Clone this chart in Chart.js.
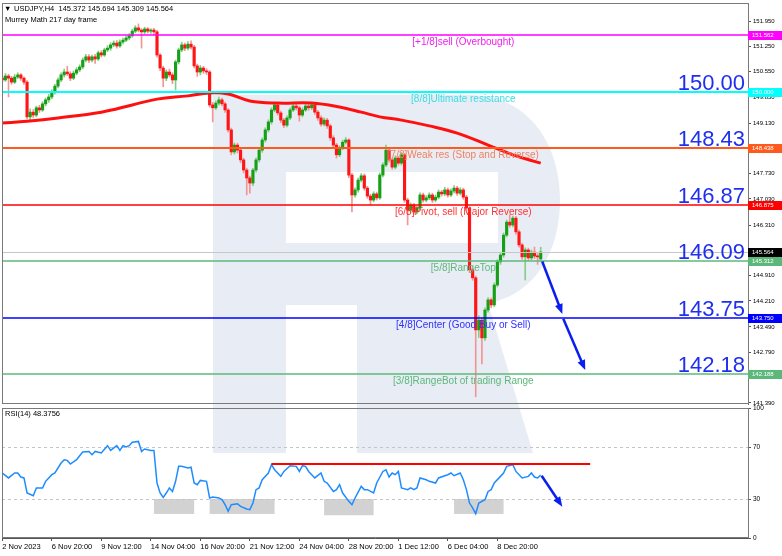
<!DOCTYPE html>
<html>
<head>
<meta charset="utf-8">
<script src="https://cdn.jsdelivr.net/npm/chart.js@4.4.0/dist/chart.umd.min.js"></script>
<style>
html, body { margin: 0; padding: 0; background: #fff; }
#wrap { position: relative; width: 782px; height: 556px; overflow: hidden; }
#wm { position: absolute; left: 0; top: 0; }
#main { position: absolute; left: 0; top: 0; }
#rsi { position: absolute; left: 0; top: 404px; }
</style>
</head>
<body>
<div id="wrap">
  <!-- background watermark -->
  <svg id="wm" width="782" height="556">
    <g fill="#e8edf5">
      <rect x="213" y="95" width="73" height="358"/>
      <path fill-rule="evenodd" d="M286 95 H470 C525 95 560 140 560 200 C560 262 525 305 470 305 H286 Z M286 172 H498 V243 H286 Z"/>
      <polygon points="357,243 470,243 533,453 357,453"/>
    </g>
  </svg>
  <canvas id="main" width="782" height="405"></canvas>
  <canvas id="rsi" width="782" height="152"></canvas>
</div>
<script>
// ---- data (USDJPY H4) ----
var timeLabels = ['2 Nov 2023', '6 Nov 20:00', '9 Nov 12:00', '14 Nov 04:00', '16 Nov 20:00',
    '21 Nov 12:00', '24 Nov 04:00', '28 Nov 20:00', '1 Dec 12:00', '6 Dec 04:00', '8 Dec 20:00'];
var tickBars = [0, 16, 32, 48, 64, 80, 96, 112, 128, 144, 160];

var opens = [150.37,150.32,150.43,150.37,150.26,150.40,150.46,150.37,150.26,149.30,
149.43,149.35,149.55,149.49,149.66,149.77,149.85,149.99,150.15,150.32,
150.46,150.54,150.49,150.37,150.51,150.60,150.68,150.87,150.96,150.87,
150.96,150.90,151.07,151.01,151.15,151.20,151.29,151.34,151.26,151.37,
151.42,151.48,151.54,151.67,151.76,151.70,151.65,151.73,151.67,151.70,
151.65,151.01,150.65,150.37,150.54,150.46,150.32,150.82,151.15,151.29,
151.20,151.31,151.23,150.71,150.54,150.65,150.57,150.54,149.63,149.55,
149.68,149.77,149.66,149.49,148.94,148.33,148.52,148.38,148.11,147.83,
147.61,147.47,147.83,148.11,148.38,148.66,148.94,149.16,149.49,149.63,
149.41,149.21,149.07,149.27,149.49,149.60,149.55,149.35,149.49,149.60,
149.55,149.63,149.43,149.27,149.10,149.21,149.05,148.72,148.52,148.25,
148.44,148.60,148.66,147.69,147.14,147.28,147.55,147.67,147.33,147.11,
147.00,147.17,147.06,147.69,147.97,148.38,148.11,147.91,148.16,148.02,
148.25,147.00,146.72,146.86,146.67,146.78,147.14,147.00,147.06,147.14,
147.00,147.08,147.22,147.17,147.28,147.14,147.25,147.33,147.19,147.28,
147.08,146.78,145.07,144.85,143.41,143.68,143.19,143.96,144.24,144.10,
144.65,145.29,145.48,146.03,146.39,146.31,146.50,146.12,145.76,145.43,
145.62,145.40,145.56,145.45,145.372];
var highs = [150.45,150.50,150.48,150.42,150.47,150.52,150.50,150.41,150.30,149.52,
149.50,149.60,149.62,149.72,149.82,149.92,150.05,150.20,150.38,150.52,
150.62,150.70,150.55,150.57,150.66,150.74,150.93,151.03,151.02,151.01,
151.03,151.12,151.13,151.20,151.27,151.35,151.40,151.41,151.43,151.48,
151.53,151.60,151.72,151.82,151.87,151.74,151.78,151.77,151.74,151.75,
151.69,151.05,150.70,150.60,150.62,150.52,150.87,151.20,151.36,151.34,
151.38,151.40,151.28,150.76,150.72,150.70,150.63,150.58,149.70,149.74,
149.85,149.82,149.71,149.53,148.99,148.58,148.57,148.43,148.16,147.88,
147.66,147.88,148.17,148.44,148.72,149.00,149.22,149.55,149.70,149.67,
149.46,149.26,149.33,149.55,149.66,149.67,149.60,149.55,149.66,149.65,
149.69,149.68,149.48,149.33,149.27,149.26,149.10,148.78,148.57,148.50,
148.66,148.73,148.70,147.74,147.34,147.61,147.73,147.72,147.38,147.16,
147.23,147.22,147.75,148.03,148.52,148.43,148.16,148.22,148.21,148.31,
148.29,147.05,146.92,146.91,146.84,147.20,147.19,147.12,147.20,147.19,
147.14,147.28,147.27,147.35,147.33,147.31,147.40,147.38,147.34,147.33,
147.13,146.82,145.12,144.90,143.80,143.75,144.02,144.30,144.29,144.71,
145.35,145.54,146.09,146.45,146.59,146.56,146.55,146.17,145.81,145.68,
145.67,145.62,145.70,145.52,145.694];
var lows = [150.25,150.28,149.85,150.20,150.22,150.36,150.31,150.20,149.25,149.21,
149.28,149.30,149.42,149.45,149.60,149.70,149.80,149.93,150.10,150.27,
150.40,150.44,150.30,150.33,150.46,150.55,150.63,150.82,150.80,150.82,
150.78,150.86,150.95,150.97,151.10,151.14,151.24,151.20,151.22,151.32,
151.38,151.43,151.50,151.62,151.65,151.20,151.60,151.62,151.61,151.58,
150.95,150.58,150.13,150.30,150.40,150.22,150.04,150.76,151.10,151.13,
151.15,151.17,150.65,150.42,150.46,150.50,150.47,149.57,149.16,149.50,
149.62,149.60,149.42,148.88,148.25,148.27,148.30,148.03,147.75,147.14,
147.19,147.40,147.77,148.05,148.32,148.60,148.88,149.10,149.44,149.35,
149.14,149.00,149.02,149.22,149.44,149.49,149.18,149.30,149.45,149.48,
149.50,149.37,149.20,149.04,149.05,148.98,148.65,148.45,148.16,148.20,
148.39,148.55,147.62,146.67,147.08,147.22,147.50,147.27,147.05,146.86,
146.95,147.00,147.02,147.64,147.92,148.05,147.85,147.86,147.96,147.97,
146.94,146.31,146.66,146.60,146.62,146.73,146.94,146.95,147.01,146.93,
146.95,147.03,147.11,147.12,147.08,147.09,147.20,147.13,147.14,147.02,
146.70,145.00,144.78,141.56,143.20,142.47,143.12,143.90,144.02,144.05,
144.60,145.22,145.42,145.98,146.25,146.26,146.05,145.70,145.36,144.79,
145.33,145.35,145.38,145.22,145.309];
var closes = [150.32,150.43,150.37,150.26,150.40,150.46,150.37,150.26,149.30,149.43,
149.35,149.55,149.49,149.66,149.77,149.85,149.99,150.15,150.32,150.46,
150.54,150.49,150.37,150.51,150.60,150.68,150.87,150.96,150.87,150.96,
150.90,151.07,151.01,151.15,151.20,151.29,151.34,151.26,151.37,151.42,
151.48,151.54,151.67,151.76,151.70,151.65,151.73,151.67,151.70,151.65,
151.01,150.65,150.37,150.54,150.46,150.32,150.82,151.15,151.29,151.20,
151.31,151.23,150.71,150.54,150.65,150.57,150.54,149.63,149.55,149.68,
149.77,149.66,149.49,148.94,148.33,148.52,148.38,148.11,147.83,147.61,
147.47,147.83,148.11,148.38,148.66,148.94,149.16,149.49,149.63,149.41,
149.21,149.07,149.27,149.49,149.60,149.55,149.35,149.49,149.60,149.55,
149.63,149.43,149.27,149.10,149.21,149.05,148.72,148.52,148.25,148.44,
148.60,148.66,147.69,147.14,147.28,147.55,147.67,147.33,147.11,147.00,
147.17,147.06,147.69,147.97,148.38,148.11,147.91,148.16,148.02,148.25,
147.00,146.72,146.86,146.67,146.78,147.14,147.00,147.06,147.14,147.00,
147.08,147.22,147.17,147.28,147.14,147.25,147.33,147.19,147.28,147.08,
146.78,145.07,144.85,143.41,143.68,143.19,143.96,144.24,144.10,144.65,
145.29,145.48,146.03,146.39,146.31,146.50,146.12,145.76,145.43,145.62,
145.40,145.56,145.45,145.43,145.564];

// 217 moving average, read at a few bars
var maBars = [0, 8, 18, 32, 42, 50, 60, 67, 73, 80, 89, 100, 109, 116, 122, 129, 138, 147, 157, 165, 174];
var maValues = [149.13, 149.18, 149.27, 149.43, 149.63, 149.79, 149.88, 149.96, 149.93, 149.74, 149.68,
    149.68, 149.57, 149.43, 149.30, 149.21, 149.05, 148.85, 148.52, 148.25, 148.02];

// Murrey math levels
var murreyLevels = [151.5625, 150.0, 148.4375, 146.875, 145.3125, 143.75, 142.1875];
var murreyBoxText = ['151.562', '150.000', '148.438', '146.875', '145.312', '143.750', '142.188'];
var murreyNames = ['[+1/8]sell (Overbought)', '[8/8]Ultimate resistance', '[7/8]Weak res (Stop and Reverse)',
    '[6/8]Pivot, sell (Major Reverse)', '[5/8]RangeTop', '[4/8]Center (Good Buy or Sell)', '[3/8]RangeBot of trading Range'];
var murreyColors = ['#ff00ff', '#00ffff', '#ff5a1e', '#ff0000', '#5cb87a', '#0000ff', '#5cb87a'];
var murreyTextColors = ['#f020f0', '#3cdce4', '#f08060', '#ff3030', '#5cb87a', '#3030ff', '#5cb87a'];
var murreyWidths = [1.5, 2, 2, 1.5, 1.5, 1.5, 1.5];

// big target labels and the level they sit on
var targetText = ['150.00', '148.43', '146.87', '146.09', '143.75', '142.18'];
var targetLevel = [150.0, 148.4375, 146.875, 145.3125, 143.75, 142.1875];

var priceTicks = [151.950, 151.250, 150.550, 149.850, 149.130, 148.430, 147.730, 147.030,
    146.310, 145.610, 144.910, 144.210, 143.490, 142.790, 142.090, 141.390];

// forecast arrows [fromBar, fromPrice, toBar, toPrice]
var arrowFromBar = [174.5, 181.3];
var arrowFromPrice = [145.30, 143.72];
var arrowToBar = [181.0, 188.4];
var arrowToPrice = [143.85, 142.30];

// RSI(14)
var rsiBars = [0,2,4,5,6,7,8,10,11,13,14,16,17,19,20,21,22,24,25,26,28,29,30,32,34,35,37,38,39,40,
41,42,44,45,46,48,49,50,51,52,53,54,55,56,57,58,60,61,62,63,64,66,67,68,70,71,72,73,74,76,
77,79,80,81,82,83,84,86,87,88,90,91,93,95,96,97,98,99,101,103,104,105,107,108,109,110,112,113,114,116,
117,118,120,121,123,124,125,126,127,128,129,131,132,133,134,135,137,138,140,141,143,144,145,146,148,149,150,151,152,153,
154,156,157,158,159,161,162,163,165,166,168,170,171,172,173,174];
var rsiValues = [50.0,46.2,50.0,50.0,46.9,46.2,34.6,32.5,38.5,38.5,43.6,48.7,50.0,57.7,60.2,59.7,56.9,60.2,63.3,66.2,
66.6,64.1,66.6,65.4,71.0,67.4,71.0,67.4,71.0,70.0,71.0,73.6,74.3,66.6,68.5,67.4,67.4,42.3,34.6,31.2,
34.6,38.5,35.8,43.6,55.1,55.1,53.8,54.4,42.3,41.0,44.3,43.6,30.8,31.6,30.8,29.5,25.6,20.5,25.6,26.4,
24.3,22.3,21.8,26.9,37.2,38.5,44.8,50.0,56.4,52.5,47.4,51.2,55.6,55.1,51.2,55.6,55.1,51.2,46.2,50.0,
43.6,42.3,35.8,37.2,41.0,34.6,28.2,25.6,30.8,39.7,37.2,37.2,34.6,42.3,51.2,52.5,46.9,50.0,48.7,51.2,
38.5,37.2,38.5,37.2,38.5,46.2,44.8,43.6,42.3,46.2,47.9,48.7,50.0,47.9,50.0,44.8,37.2,26.9,23.1,18.7,
26.9,29.5,35.8,37.2,42.3,47.4,50.0,55.1,56.4,51.2,46.2,47.4,50.0,46.9,46.2,48.3756];
var rsiTicks = [0, 30, 70, 100];
var rsiTrendBars = [87, 190];
var rsiTrendValues = [56.9, 56.9];
var rsiBoxFrom = [49, 67, 104, 146];
var rsiBoxTo = [62, 88, 120, 162];
var rsiBoxLow = [18.5, 18.5, 17.5, 18.5];
var rsiArrowBars = [174.3, 181.0];
var rsiArrowValues = [47.9, 24.1];

var X_MIN = -0.1, X_MAX = 241;
var FONT = 'Liberation Sans';
Chart.defaults.font.family = FONT;
var last = closes.length - 1;

function drawArrow(ctx, x0, y0, x1, y1, color) {
    var ang = Math.atan2(y1 - y0, x1 - x0), L = 10, W = 4;
    ctx.strokeStyle = color;
    ctx.fillStyle = color;
    ctx.lineWidth = 2.5;
    ctx.beginPath();
    ctx.moveTo(x0, y0);
    ctx.lineTo(x1 - L * 0.8 * Math.cos(ang), y1 - L * 0.8 * Math.sin(ang));
    ctx.stroke();
    ctx.beginPath();
    ctx.moveTo(x1, y1);
    ctx.lineTo(x1 - L * Math.cos(ang) + W * Math.sin(ang), y1 - L * Math.sin(ang) - W * Math.cos(ang));
    ctx.lineTo(x1 - L * Math.cos(ang) - W * Math.sin(ang), y1 - L * Math.sin(ang) + W * Math.cos(ang));
    ctx.closePath();
    ctx.fill();
}

function frame(chart) {
    var a = chart.chartArea, ctx = chart.ctx;
    ctx.save();
    ctx.strokeStyle = '#7a7a7a';
    ctx.lineWidth = 1;
    ctx.strokeRect(a.left + 0.5, a.top + 0.5, a.right - a.left, a.bottom - a.top - 1);
    ctx.restore();
}

var mainDecor = {
    id: 'mainDecor',
    afterDatasetsDraw: function (chart) {
        var ctx = chart.ctx, a = chart.chartArea, x = chart.scales.x, y = chart.scales.y;
        ctx.save();
        ctx.beginPath();
        ctx.rect(a.left, a.top, a.right - a.left, a.bottom - a.top);
        ctx.clip();
        // current price
        var cp = Math.round(y.getPixelForValue(closes[last])) + 0.5;
        ctx.strokeStyle = '#c6c6c6';
        ctx.lineWidth = 1;
        ctx.beginPath(); ctx.moveTo(a.left, cp); ctx.lineTo(a.right, cp); ctx.stroke();

        ctx.font = '10px "' + FONT + '"';
        ctx.textAlign = 'center';
        ctx.textBaseline = 'top';
        for (var i = 0; i < murreyLevels.length; i++) {
            var py = Math.round(y.getPixelForValue(murreyLevels[i]));
            ctx.strokeStyle = murreyColors[i];
            ctx.lineWidth = murreyWidths[i];
            ctx.beginPath(); ctx.moveTo(a.left, py); ctx.lineTo(a.right, py); ctx.stroke();
            ctx.fillStyle = murreyTextColors[i];
            ctx.fillText(murreyNames[i], x.getPixelForValue(149), py + 2);
        }
        ctx.font = '22px "' + FONT + '"';
        ctx.textAlign = 'right';
        ctx.textBaseline = 'alphabetic';
        ctx.fillStyle = '#1f2ff0';
        for (var j = 0; j < targetText.length; j++) {
            ctx.fillText(targetText[j], a.right - 3, y.getPixelForValue(targetLevel[j]) - 2);
        }
        for (var k = 0; k < arrowFromBar.length; k++) {
            drawArrow(ctx, x.getPixelForValue(arrowFromBar[k]), y.getPixelForValue(arrowFromPrice[k]),
                x.getPixelForValue(arrowToBar[k]), y.getPixelForValue(arrowToPrice[k]), '#0a1ef0');
        }
        ctx.restore();
    },
    afterDraw: function (chart) {
        var ctx = chart.ctx, a = chart.chartArea, y = chart.scales.y;
        frame(chart);
        ctx.save();
        ctx.font = '6px "' + FONT + '"';
        ctx.textBaseline = 'middle';
        ctx.textAlign = 'left';
        var boxes = murreyLevels.concat([closes[last]]);
        var texts = murreyBoxText.concat([closes[last].toFixed(3)]);
        var cols = murreyColors.concat(['#000000']);
        for (var i = 0; i < boxes.length; i++) {
            var py = Math.round(y.getPixelForValue(boxes[i]));
            ctx.fillStyle = cols[i];
            ctx.fillRect(a.right, py - 4, 34, 9);
            ctx.fillStyle = '#ffffff';
            ctx.fillText(texts[i], a.right + 4, py + 0.5);
        }
        // header
        ctx.fillStyle = '#000';
        ctx.font = '7.5px "' + FONT + '"';
        ctx.fillText('\u25BC', 4, 9);
        ctx.fillText('USDJPY,H4  ' + [opens[last], highs[last], lows[last], closes[last]].map(function (v) {
            return v.toFixed(3);
        }).join(' '), 14, 9);
        ctx.fillText('Murrey Math 217 day frame', 5, 20);
        ctx.restore();
    }
};

var bullBody = '#17a017', bearBody = '#ff1515', bullWick = '#86cc86', bearWick = '#f59494';

var mainChart = new Chart(document.getElementById('main').getContext('2d'), {
    type: 'bar',
    data: {
        datasets: [{
            type: 'line',
            data: maBars.map(function (b, i) { return { x: b, y: maValues[i] }; }),
            borderColor: '#ff1010',
            borderWidth: 3,
            pointRadius: 0,
            tension: 0.4,
            fill: false
        }, {
            data: closes.map(function (c, i) { return { x: i, y: [opens[i], c] }; }),
            backgroundColor: closes.map(function (c, i) { return c >= opens[i] ? bullBody : bearBody; }),
            barThickness: 2.5,
            minBarLength: 1,
            grouped: false,
            borderWidth: 0
        }, {
            data: highs.map(function (h, i) { return { x: i, y: [lows[i], h] }; }),
            backgroundColor: closes.map(function (c, i) { return c >= opens[i] ? bullWick : bearWick; }),
            barThickness: 1,
            grouped: false,
            borderWidth: 0
        }]
    },
    options: {
        responsive: false,
        animation: false,
        events: [],
        layout: { autoPadding: false, padding: { left: 2, top: 3, right: 0, bottom: 1 } },
        plugins: { legend: { display: false }, tooltip: { enabled: false } },
        scales: {
            x: {
                type: 'linear', min: X_MIN, max: X_MAX, offset: false,
                display: false
            },
            y: {
                position: 'right',
                min: 141.361, max: 152.448,
                afterBuildTicks: function (s) {
                    s.ticks = priceTicks.map(function (v) { return { value: v }; });
                },
                afterFit: function (s) { s.width = 34; s.paddingTop = 0; s.paddingBottom = 0; },
                grid: { drawOnChartArea: false, drawTicks: true, tickLength: 3, color: '#555' },
                border: { color: '#6e6e6e' },
                ticks: {
                    autoSkip: false, padding: 2, color: '#000',
                    font: { size: 6 },
                    callback: function (v) { return Number(v).toFixed(3); }
                }
            }
        }
    },
    plugins: [mainDecor]
});

var rsiDecor = {
    id: 'rsiDecor',
    beforeDatasetsDraw: function (chart) {
        var ctx = chart.ctx, a = chart.chartArea, x = chart.scales.x, y = chart.scales.y;
        ctx.save();
        ctx.fillStyle = '#d2d2d2';
        for (var i = 0; i < rsiBoxFrom.length; i++) {
            var x0 = x.getPixelForValue(rsiBoxFrom[i]), x1 = x.getPixelForValue(rsiBoxTo[i]);
            var y0 = y.getPixelForValue(30), y1 = y.getPixelForValue(rsiBoxLow[i]);
            ctx.fillRect(x0, y0, x1 - x0, y1 - y0);
        }
        ctx.strokeStyle = '#c4c4c4';
        ctx.lineWidth = 1;
        ctx.setLineDash([3, 3]);
        [30, 70].forEach(function (v) {
            var py = Math.round(y.getPixelForValue(v)) + 0.5;
            ctx.beginPath(); ctx.moveTo(a.left, py); ctx.lineTo(a.right, py); ctx.stroke();
        });
        ctx.restore();
    },
    afterDatasetsDraw: function (chart) {
        var ctx = chart.ctx, x = chart.scales.x, y = chart.scales.y;
        ctx.save();
        drawArrow(ctx, x.getPixelForValue(rsiArrowBars[0]), y.getPixelForValue(rsiArrowValues[0]),
            x.getPixelForValue(rsiArrowBars[1]), y.getPixelForValue(rsiArrowValues[1]), '#0a1ef0');
        ctx.restore();
    },
    afterDraw: function (chart) {
        var ctx = chart.ctx;
        frame(chart);
        ctx.save();
        ctx.fillStyle = '#000';
        ctx.font = '7.5px "' + FONT + '"';
        ctx.textBaseline = 'middle';
        ctx.fillText('RSI(14) ' + rsiValues[rsiValues.length - 1].toFixed(4), 5, 10);
        ctx.restore();
    }
};

var rsiChart = new Chart(document.getElementById('rsi').getContext('2d'), {
    type: 'line',
    data: {
        datasets: [{
            data: rsiTrendBars.map(function (b, i) { return { x: b, y: rsiTrendValues[i] }; }),
            borderColor: '#ff0000',
            borderWidth: 2,
            pointRadius: 0
        }, {
            data: rsiBars.map(function (b, i) { return { x: b, y: rsiValues[i] }; }),
            borderColor: '#1e8cff',
            borderWidth: 1.5,
            pointRadius: 0,
            tension: 0
        }]
    },
    options: {
        responsive: false,
        animation: false,
        events: [],
        layout: { autoPadding: false, padding: { left: 2, top: 4, right: 0, bottom: 0 } },
        plugins: { legend: { display: false }, tooltip: { enabled: false } },
        scales: {
            x: {
                type: 'linear', min: X_MIN, max: X_MAX, offset: false,
                afterBuildTicks: function (s) {
                    s.ticks = tickBars.map(function (v) { return { value: v }; });
                },
                afterFit: function (s) { s.height = 18; s.paddingLeft = 0; s.paddingRight = 0; },
                grid: { drawOnChartArea: false, drawTicks: true, tickLength: 3, color: '#555' },
                border: { color: '#555' },
                ticks: {
                    autoSkip: false, maxRotation: 0, align: 'start', padding: 1, color: '#000',
                    font: { size: 7.5 },
                    callback: function (v) { return timeLabels[tickBars.indexOf(v)]; }
                }
            },
            y: {
                position: 'right', min: 0, max: 100,
                afterBuildTicks: function (s) {
                    s.ticks = rsiTicks.map(function (v) { return { value: v }; });
                },
                afterFit: function (s) { s.width = 34; s.paddingTop = 0; s.paddingBottom = 0; },
                grid: { drawOnChartArea: false, drawTicks: true, tickLength: 3, color: '#555' },
                border: { color: '#6e6e6e' },
                ticks: { autoSkip: false, padding: 2, color: '#000', font: { size: 6.5 } }
            }
        }
    },
    plugins: [rsiDecor]
});
</script>
</body>
</html>
